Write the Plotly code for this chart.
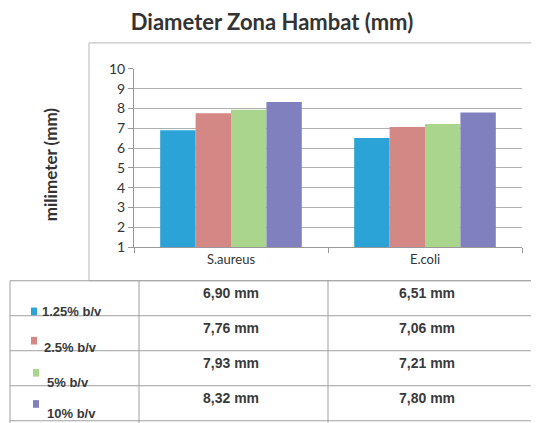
import plotly.graph_objects as go

categories = ["S.aureus", "E.coli"]
series_names = ["1.25% b/v", "2.5% b/v", "5% b/v", "10% b/v"]
values_1_25 = [6.90, 6.51]
values_2_5 = [7.76, 7.06]
values_5 = [7.93, 7.21]
values_10 = [8.32, 7.80]
series_values = [values_1_25, values_2_5, values_5, values_10]
colors = ["#2BA3D6", "#D48886", "#A9D68C", "#8080BF"]
y_ticks = list(range(1, 11))

# page has an 8px body margin; figure sized to fill the visible window
OFF = 8
W, H = 539 - OFF, 423 - OFF
def px(x): return (x - OFF) / W
def py(y): return 1 - (y - OFF) / H

fig = go.Figure()
for name, vals, col in zip(series_names, series_values, colors):
    fig.add_trace(go.Bar(x=categories, y=vals, name=name, marker_color=col,
                         marker_line_width=0, showlegend=False))

shapes = []
line_col = "#B8B8B8"
# chart frame
shapes.append(dict(type="rect", xref="paper", yref="paper", x0=px(89), x1=px(560),
                   y0=py(283), y1=py(35), line=dict(color=line_col, width=1)))
# table lines
tbl_top = 283
row_h = 36.5
for i in range(5):
    y = tbl_top + i * row_h
    shapes.append(dict(type="line", xref="paper", yref="paper", x0=px(10), x1=px(560),
                       y0=py(y), y1=py(y), line=dict(color="#A0A0A0", width=1)))
for x in [10, 139, 328]:
    shapes.append(dict(type="line", xref="paper", yref="paper", x0=px(x), x1=px(x),
                       y0=py(tbl_top), y1=py(440), line=dict(color="#A0A0A0", width=1)))

annotations = []
# y-axis title
annotations.append(dict(text="<b>milimeter (mm)</b>", xref="paper", yref="paper",
                        x=px(38), y=py(162), showarrow=False, textangle=-90,
                        font=dict(family="Lato", size=17, color="#333333")))
# table contents
for i, (name, vals, col) in enumerate(zip(series_names, series_values, colors)):
    top = tbl_top + i * row_h
    sq_x = [31, 31, 33, 33][i]
    sq_y = [28, 22, 19, 15][i]
    shapes.append(dict(type="rect", xref="paper", yref="paper", x0=px(sq_x), x1=px(sq_x + 6),
                       y0=py(top + sq_y + 8), y1=py(top + sq_y), line=dict(width=0), fillcolor=col))
    lab_x = [40, 42, 45, 45][i]
    lab_y = [32, 33, 33, 29][i]
    annotations.append(dict(text="<b>" + name + "</b>", xref="paper", yref="paper",
                            x=px(lab_x), y=py(top + lab_y), xanchor="left", yanchor="middle",
                            showarrow=False,
                            font=dict(family="Liberation Sans", size=13, color="#3A3A3A")))
    for cx, v in zip([231, 427], vals):
        annotations.append(dict(text="<b>" + f"{v:.2f}".replace(".", ",") + " mm</b>",
                                xref="paper", yref="paper", x=px(cx), y=py(top + 13),
                                xanchor="center", yanchor="middle", showarrow=False,
                                font=dict(family="Liberation Sans", size=14, color="#3A3A3A")))

fig.update_layout(
    width=W, height=H,
    margin=dict(l=0, r=0, t=0, b=0),
    paper_bgcolor="white", plot_bgcolor="white",
    bargap=0.27, bargroupgap=0,
    title=dict(text="<b>Diameter Zona Hambat (mm)</b>", x=px(272), xanchor="center",
               y=py(22), yanchor="middle",
               font=dict(family="Lato", size=22, color="#333333")),
    xaxis=dict(domain=[px(134), px(522)], showline=True, linecolor="#999999",
               ticks="outside", ticklen=5, tickcolor="#999999", tickson="boundaries",
               tickfont=dict(family="Lato", size=13, color="#333333"), showgrid=False),
    yaxis=dict(domain=[py(248), py(62)], range=[1, 10], tickvals=y_ticks,
               showline=True, linecolor="#999999", ticks="outside", ticklen=5,
               tickcolor="#999999", gridcolor="#B0B0B0", gridwidth=1,
               tickfont=dict(family="Lato", size=14, color="#333333")),
    shapes=shapes, annotations=annotations,
)
fig.write_html("out.html")
